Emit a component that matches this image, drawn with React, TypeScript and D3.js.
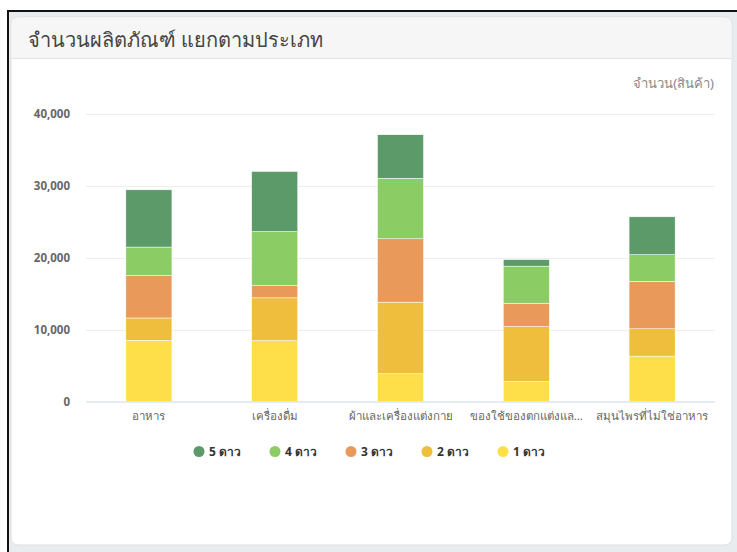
import React, { useEffect, useRef } from 'react';
import * as d3 from 'd3';

const categories = [
  'อาหาร',
  'เครื่องดื่ม',
  'ผ้าและเครื่องแต่งกาย',
  'ของใช้ของตกแต่งแล...',
  'สมุนไพรที่ไม่ใช่อาหาร',
];

// stacked from bottom: 1 ดาว -> 5 ดาว
const star1 = [8500, 8450, 3850, 2750, 6300];
const star2 = [3100, 5950, 9950, 7650, 3800];
const star3 = [5900, 1700, 8800, 3250, 6600];
const star4 = [3950, 7500, 8400, 5150, 3700];
const star5 = [7950, 8350, 6050, 900, 5250];

const seriesNames = ['1 ดาว', '2 ดาว', '3 ดาว', '4 ดาว', '5 ดาว'];
const seriesColors = ['#fedf4a', '#efbe3d', '#e99a5a', '#8bcc64', '#5c9a6a'];
const yTicks = [0, 10000, 20000, 30000, 40000];

const W = 737;
const H = 552;
const FONT = '"Noto Sans", "DejaVu Sans", sans-serif';

const App: React.FC = () => {
  const svgRef = useRef<SVGSVGElement>(null);

  useEffect(() => {
    if (!svgRef.current) return;
    const svg = d3.select(svgRef.current);
    svg.selectAll('*').remove();

    // frame / card
    svg.append('rect').attr('width', W).attr('height', H).attr('fill', '#fff');
    svg.append('rect').attr('x', 8).attr('y', 11).attr('width', W).attr('height', H).attr('fill', '#e9ecef');
    svg.append('line').attr('x1', 7).attr('x2', W).attr('y1', 11).attr('y2', 11).attr('stroke', '#111').attr('stroke-width', 2);
    svg.append('line').attr('x1', 8).attr('x2', 8).attr('y1', 10).attr('y2', H).attr('stroke', '#111').attr('stroke-width', 2);
    svg.append('rect')
      .attr('x', 11).attr('y', 17).attr('width', 721).attr('height', 528).attr('rx', 7)
      .attr('fill', '#fff').attr('stroke', '#dedede');
    svg.append('path')
      .attr('d', 'M11.5,58 V24 Q11.5,17.5 18.5,17.5 H724.5 Q731.5,17.5 731.5,24 V58 Z')
      .attr('fill', '#f6f6f6');
    svg.append('line').attr('x1', 11.5).attr('x2', 731.5).attr('y1', 58.5).attr('y2', 58.5).attr('stroke', '#e2e2e2');
    svg.append('text')
      .attr('x', 28).attr('y', 47)
      .attr('font-family', FONT).attr('font-size', 20).attr('fill', '#444')
      .text('จำนวนผลิตภัณฑ์ แยกตามประเภท');

    // plot
    const left = 86, right = 715, top = 113.5, bottom = 401.5;
    const x = d3.scaleBand<string>().domain(categories).range([left, right]).paddingInner(0.634).paddingOuter(0.317);
    const y = d3.scaleLinear().domain([0, 40000]).range([bottom, top]);

    const g = svg.append('g');
    g.selectAll('.grid').data(yTicks.slice(1)).enter().append('line')
      .attr('x1', left).attr('x2', right)
      .attr('y1', d => Math.round(y(d)) + 0.5).attr('y2', d => Math.round(y(d)) + 0.5)
      .attr('stroke', '#eeeeee');
    g.selectAll('.ylab').data(yTicks).enter().append('text')
      .attr('x', 70).attr('y', d => y(d) + 4)
      .attr('text-anchor', 'end')
      .attr('font-family', FONT).attr('font-size', 11.5).attr('font-weight', 'bold').attr('fill', '#666')
      .text(d => d3.format(',')(d));

    svg.append('text')
      .attr('x', 714).attr('y', 88).attr('text-anchor', 'end')
      .attr('font-family', FONT).attr('font-size', 13).attr('fill', '#888')
      .text('จำนวน(สินค้า)');

    const table = categories.map((c, i) => ({
      cat: c,
      s0: star1[i], s1: star2[i], s2: star3[i], s3: star4[i], s4: star5[i],
    }));
    const stack = d3.stack<any>().keys(['s0', 's1', 's2', 's3', 's4']);
    const layers = stack(table);

    layers.forEach((layer, li) => {
      g.selectAll('.bar' + li).data(layer).enter().append('rect')
        .attr('x', d => x(d.data.cat)!)
        .attr('width', x.bandwidth())
        .attr('y', d => y(d[1]))
        .attr('height', d => y(d[0]) - y(d[1]))
        .attr('fill', seriesColors[li])
        .attr('stroke', '#fff').attr('stroke-width', 0.5);
    });

    g.append('line').attr('x1', left).attr('x2', right).attr('y1', bottom + 0.5).attr('y2', bottom + 0.5).attr('stroke', '#ccd6eb');

    g.selectAll('.xlab').data(categories).enter().append('text')
      .attr('x', d => x(d)! + x.bandwidth() / 2).attr('y', 420)
      .attr('text-anchor', 'middle')
      .attr('font-family', FONT).attr('font-size', 11.5).attr('fill', '#666')
      .text(d => d);

    // legend (5 ดาว first)
    const legendOrder = [4, 3, 2, 1, 0];
    const lg = svg.append('g');
    legendOrder.forEach((si, k) => {
      const cx = 199 + k * 76;
      lg.append('circle').attr('cx', cx).attr('cy', 451.5).attr('r', 5.5).attr('fill', seriesColors[si]);
      lg.append('text')
        .attr('x', cx + 10).attr('y', 456)
        .attr('font-family', FONT).attr('font-size', 12).attr('font-weight', 'bold').attr('fill', '#333')
        .text(seriesNames[si]);
    });
  }, []);

  return (
    <div style={{ position: 'absolute', left: 0, top: 0 }}>
      <svg ref={svgRef} width={W} height={H} style={{ display: 'block' }} />
    </div>
  );
};

export default App;
